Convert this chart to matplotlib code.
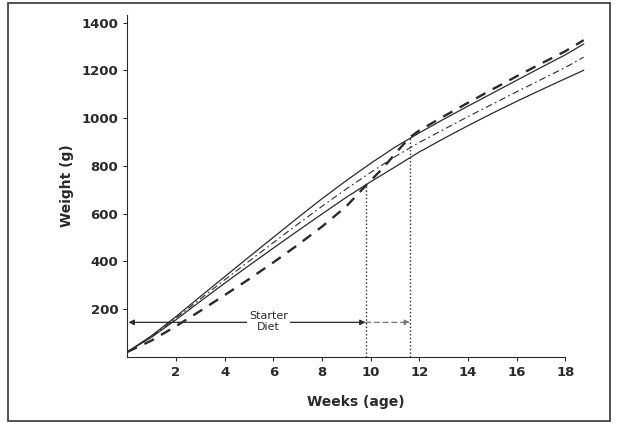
import numpy as np
import matplotlib
matplotlib.use('Agg')
import matplotlib.pyplot as plt
from matplotlib.patches import Rectangle

plt.rcParams['font.family'] = ['DejaVu Sans']

# weeks for the reference curves
weeks = [0, 1, 2, 3, 4, 5, 6, 7, 8, 9, 10, 11, 12, 13, 14, 15, 16, 17, 18, 18.75]
upper = [20, 88, 168, 252, 335, 418, 500, 582, 662, 738, 810, 878, 938,
         995, 1050, 1104, 1158, 1212, 1265, 1310]
lower = [20, 82, 155, 232, 308, 382, 455, 527, 598, 668, 733, 795, 858,
         914, 968, 1020, 1070, 1118, 1165, 1200]
middle = [20, 85, 162, 242, 322, 400, 478, 555, 630, 703, 772, 838, 898,
          952, 1006, 1058, 1110, 1161, 1212, 1255]

# starter diet curve (switch at ~11.6 weeks)
diet_weeks = [0, 1, 2, 3, 4, 5, 6, 7, 8, 9, 9.79, 10.5, 11.2, 11.62, 12,
              13, 14, 15, 16, 17, 18, 18.75]
diet = [20, 68, 128, 192, 258, 325, 395, 468, 545, 630, 716, 790, 873, 920,
        948, 1007, 1064, 1120, 1175, 1228, 1280, 1326]

switch_early = 9.79
switch_late = 11.62
switch_early_wt = 718
switch_late_wt = 920

xticks = [2, 4, 6, 8, 10, 12, 14, 16, 18]
yticks = [200, 400, 600, 800, 1000, 1200, 1400]

ink = '#2a2a2a'

fig = plt.figure(figsize=(6.17, 4.23), dpi=100)
ax = fig.add_axes([0.2063, 0.1567, 0.7416, 0.8069])

ax.plot(weeks, upper, '-', color=ink, lw=0.9)
ax.plot(weeks, lower, '-', color=ink, lw=0.9)
ax.plot(weeks, middle, color=ink, lw=0.8, linestyle=(0, (6, 3, 1.5, 3)))
ax.plot(diet_weeks, diet, color=ink, lw=1.7, linestyle=(0, (4.5, 3.5)))

# switch-over markers
ax.plot([switch_early, switch_early], [0, switch_early_wt], ':', color=ink, lw=1.0)
ax.plot([switch_late, switch_late], [0, switch_late_wt], ':', color=ink, lw=1.0)

# starter diet arrows
ax.annotate('', xy=(0.05, 144), xytext=(switch_early, 144),
            arrowprops=dict(arrowstyle='<|-|>', color=ink, lw=0.9,
                            mutation_scale=8, shrinkA=0, shrinkB=0))
ax.annotate('', xy=(switch_late, 144), xytext=(switch_early, 144),
            arrowprops=dict(arrowstyle='-|>', color='#777777', lw=0.9,
                            linestyle=(0, (4, 3)), mutation_scale=8,
                            shrinkA=0, shrinkB=0))
ax.text(5.8, 147, 'Starter\nDiet', ha='center', va='center', fontsize=8,
        color=ink, linespacing=1.1,
        bbox=dict(facecolor='white', edgecolor='none', pad=1.5))

ax.set_xlim(0, 18.8)
ax.set_ylim(0, 1430)
ax.set_xticks(xticks)
ax.set_yticks(yticks)
ax.tick_params(direction='out', length=3, width=0.8, colors=ink,
               labelsize=9.5)
for lab in ax.get_xticklabels() + ax.get_yticklabels():
    lab.set_fontweight('bold')
ax.spines['top'].set_visible(False)
ax.spines['right'].set_visible(False)
ax.spines['left'].set_color(ink)
ax.spines['bottom'].set_color(ink)
ax.spines['bottom'].set_bounds(0, 18)

ax.set_xlabel('Weeks (age)', fontsize=10, fontweight='bold', color=ink,
              labelpad=12)
ax.set_ylabel('Weight (g)', fontsize=10, fontweight='bold', color=ink,
              labelpad=5)

# outer frame
fig.patches.append(Rectangle((8/617, 2/423), 602/617, 418/423,
                             transform=fig.transFigure, fill=False,
                             edgecolor='#444444', lw=1.3))

fig.savefig('out.png', dpi=100)
